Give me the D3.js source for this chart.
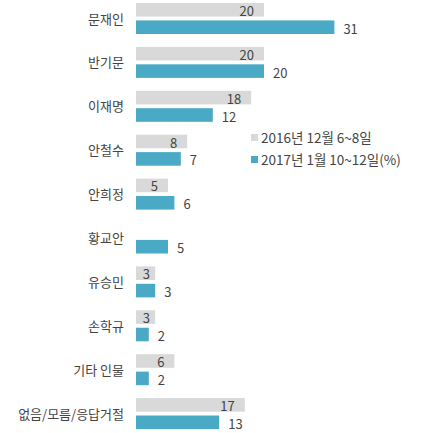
<!DOCTYPE html>
<html>
<head>
<meta charset="utf-8">
<script src="https://cdn.jsdelivr.net/npm/d3@7"></script>
<style>
  body { margin: 0; background: #fff; }
  svg { display: block; font-family: "Noto Sans CJK KR", sans-serif; }
</style>
</head>
<body>
<svg width="430" height="433"></svg>
<script>
    // Inline data
    const names = ["문재인", "반기문", "이재명", "안철수", "안희정", "황교안", "유승민", "손학규", "기타 인물", "없음/모름/응답거절"];
    const dec2016 = [20, 20, 18, 8, 5, null, 3, 3, 6, 17];
    const jan2017 = [31, 20, 12, 7, 6, 5, 3, 2, 2, 13];
    const seriesNames = ["2016년 12월 6~8일", "2017년 1월 10~12일(%)"];
    const colors = ["#d9d9d9", "#4aaac6"];

    const rows = names.map((n, i) => ({ name: n, vals: [dec2016[i], jan2017[i]] }));

    const svg = d3.select("svg");
    const x = d3.scaleLinear().domain([0, 31]).range([136, 334.4]);
    const y = d3.scaleBand().domain(names).range([0, 439]);
    const ySub = d3.scaleBand().domain([0, 1]).range([3, 34]).paddingInner(0.22);

    const g = svg.selectAll(".row")
      .data(rows)
      .enter()
      .append("g")
      .attr("class", "row")
      .attr("transform", d => `translate(0,${y(d.name)})`);

    // category labels
    g.append("text")
      .attr("x", 124)
      .attr("y", 19)
      .attr("dy", "0.35em")
      .attr("text-anchor", "end")
      .attr("font-size", 13)
      .attr("fill", "#444")
      .text(d => d.name);

    // bars
    g.selectAll("rect")
      .data(d => d.vals.map((v, k) => ({ v, k })).filter(e => e.v != null))
      .enter()
      .append("rect")
      .attr("x", x(0))
      .attr("y", e => ySub(e.k))
      .attr("width", e => x(e.v) - x(0))
      .attr("height", ySub.bandwidth())
      .attr("fill", e => colors[e.k]);

    // value labels: old series inside bar end, new series outside
    g.selectAll(".val")
      .data(d => d.vals.map((v, k) => ({ v, k })).filter(e => e.v != null))
      .enter()
      .append("text")
      .attr("class", "val")
      .attr("font-size", 13)
      .attr("fill", "#444")
      .attr("text-anchor", e => e.k === 0 ? "end" : "start")
      .attr("x", e => e.k === 0 ? Math.max(x(e.v) - 10, x(0) + 14) : x(e.v) + 9)
      .attr("y", e => ySub(e.k) + ySub.bandwidth() / 2 + (e.k === 0 ? 1.5 : 2))
      .attr("dy", "0.35em")
      .text(e => e.v);

    // legend
    const legend = svg.selectAll(".legend")
      .data(seriesNames)
      .enter()
      .append("g")
      .attr("class", "legend")
      .attr("transform", (d, i) => `translate(251,${138 + i * 22})`);

    legend.append("rect")
      .attr("x", 0)
      .attr("y", -4)
      .attr("width", 7)
      .attr("height", 7)
      .attr("fill", (d, i) => colors[i]);

    legend.append("text")
      .attr("x", 10)
      .attr("y", 0)
      .attr("dy", "0.35em")
      .attr("font-size", 13.5)
      .attr("fill", "#444")
      .text(d => d);
</script>
</body>
</html>
